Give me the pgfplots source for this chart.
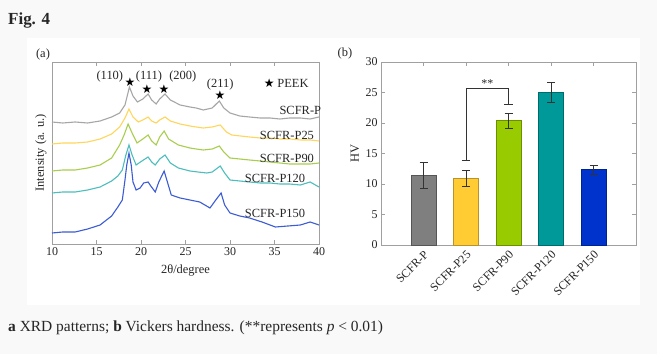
\documentclass[border=0pt]{standalone}
\usepackage{fontspec}
\setmainfont{Liberation Serif}
\newfontfamily\symfont{DejaVu Sans}
\usepackage{pgfplots}
\pgfplotsset{compat=1.18}
\definecolor{bgpage}{HTML}{F9F9F9}
\definecolor{axgray}{HTML}{A0A0A0}
\definecolor{txt}{HTML}{262626}
\definecolor{cP}{HTML}{A6A6A6}
\definecolor{cP25}{HTML}{FFD65C}
\definecolor{cP90}{HTML}{A9CE4E}
\definecolor{cP120}{HTML}{4DBDBD}
\definecolor{cP150}{HTML}{3B5CD4}
\definecolor{bP}{HTML}{7F7F7F}
\definecolor{bPe}{HTML}{555555}
\definecolor{bP25}{HTML}{FFCC33}
\definecolor{bP25e}{HTML}{B8922A}
\definecolor{bP90}{HTML}{99CC00}
\definecolor{bP90e}{HTML}{6B8F00}
\definecolor{bP120}{HTML}{009999}
\definecolor{bP120e}{HTML}{006B6B}
\definecolor{bP150}{HTML}{0033CC}
\definecolor{bP150e}{HTML}{00248F}
\begin{document}
\begin{tikzpicture}[x=1bp,y=1bp]
\fill[bgpage] (0,0) rectangle (657,354);
\fill[white] (27,49) rectangle (640,316);
\node[anchor=west, inner sep=0, font=\bfseries\fontsize{17}{20}\selectfont, text=txt] at (8,334) {Fig. 4};
\node[anchor=west, inner sep=0, font=\fontsize{15.5}{18}\selectfont, text=txt] at (8,26) {\textbf{a} XRD patterns; \textbf{b} Vickers hardness. (**represents \textit{p} < 0.01)};
\node[inner sep=0, font=\fontsize{12.5}{14}\selectfont, text=txt] at (43,299) {(a)};
\node[inner sep=0, font=\fontsize{12.5}{14}\selectfont, text=txt] at (345,300) {(b)};

\begin{axis}[at={(52bp,110bp)}, anchor=south west, scale only axis,
  width=267bp, height=182bp, xmin=10, xmax=40, ymin=0, ymax=182,
  xtick={10,15,...,40}, ytick=\empty, tick align=inside,
  major tick length=4bp,
  axis line style={axgray, line width=0.6bp}, tick style={axgray, line width=0.6bp},
  ticklabel style={font=\fontsize{12}{14}\selectfont, text=txt},
  /pgf/number format/assume math mode=true,
  xlabel={2θ/degree}, ylabel={Intensity (a. u.)},
  label style={font=\fontsize{12.5}{14}\selectfont, text=txt},
  xlabel style={at={(axis description cs:0.5,0)}, anchor=center, inner sep=0, yshift=-26bp},
  ylabel style={at={(axis description cs:0,0.5)}, anchor=center, inner sep=0, yshift=11bp},
  clip=false]
\addplot[cP, line width=1.1bp] coordinates {
(10.0,122) (11.2,121) (12.6,122) (14.0,121) (15.4,123) (16.7,127) (17.6,131) (18.2,139) (18.7,157)
(19.1,148) (19.6,142) (20.2,145) (20.8,150) (21.2,144) (21.7,140) (22.1,145) (22.7,150)
(23.3,144) (24.4,139) (25.5,137) (26.2,136) (27.0,134) (28.0,136) (28.8,143) (29.3,136)
(30.0,131) (31.1,128) (32.2,127) (33.4,126) (34.5,126) (35.6,125) (36.7,126) (37.9,126) (39.0,125) (40.0,127)};
\addplot[cP25, line width=1.1bp] coordinates {
(10.0,100) (11.2,101) (12.6,101) (14.0,102) (15.4,105) (16.7,110) (17.6,117) (18.2,126) (18.65,135)
(19.1,127) (19.7,122) (20.2,124) (20.8,127) (21.2,123) (21.7,121) (22.1,124) (22.7,127)
(23.3,123) (24.4,120) (25.5,118) (26.2,117) (27.0,116) (28.0,117) (28.9,119) (29.6,112)
(30.2,109) (31.2,108) (32.2,107) (33.4,106) (34.5,106) (35.6,105) (36.7,105) (38.0,104) (39.0,104) (40.0,103)};
\addplot[cP90, line width=1.1bp] coordinates {
(10.0,73) (11.2,74) (12.6,74) (14.0,76) (15.4,79) (16.7,86) (17.6,99) (18.1,109) (18.55,120)
(19.0,111) (19.55,101) (20.2,105) (20.8,109) (21.2,103) (21.7,99) (22.1,107) (22.6,113)
(23.1,105) (24.2,99) (25.5,96) (26.2,95) (27.0,94) (28.0,95) (28.8,98) (29.3,92)
(30.0,86) (31.1,85) (32.2,84) (33.4,83) (34.5,82) (35.6,81) (36.7,80) (37.9,80) (39.0,80) (40.0,81)};
\addplot[cP120, line width=1.1bp] coordinates {
(10.0,51) (11.2,52) (12.6,52) (14.0,54) (15.4,57) (16.7,63) (17.4,68) (17.9,74) (18.3,89) (18.65,99)
(19.0,89) (19.45,79) (20.1,83) (20.8,87) (21.2,82) (21.6,79) (22.1,85) (22.7,89)
(23.3,81) (24.2,76) (25.5,73) (26.4,72) (27.4,71) (28.0,72) (28.9,78) (29.4,71)
(30.0,64) (31.1,63) (32.2,62) (33.4,61) (34.5,61) (35.6,60) (36.7,60) (37.9,59) (39.0,62) (40.0,57)};
\addplot[cP150, line width=1.1bp] coordinates {
(10.0,11) (11.2,12) (12.6,12) (14.0,15) (15.4,19) (16.7,28) (17.4,37) (17.9,44) (18.2,64) (18.4,79) (18.65,91)
(18.9,79) (19.1,62) (19.45,54) (19.9,56) (20.3,61) (20.8,62) (21.1,58) (21.6,52) (22.0,62) (22.6,73)
(22.9,64) (23.4,49) (24.4,46) (25.5,44) (26.6,42) (27.75,36) (28.4,44) (29.0,51) (29.4,39)
(30.0,31) (31.1,28) (32.2,26) (33.6,22) (35.1,17) (36.5,18) (37.9,19) (39.0,22) (40.0,19)};
% peak stars
\addplot[black, only marks, mark=text, text mark={\symfont\fontsize{12}{12}\selectfont ★}] coordinates {(18.76,162) (20.67,155) (22.58,155) (28.88,149) (34.4,161)};
\begin{scope}[every node/.style={font=\fontsize{12.5}{14}\selectfont, text=txt, inner sep=0}]
\node at (axis cs:16.5,167) {(110)};
\node at (axis cs:20.9,167) {(111)};
\node at (axis cs:24.7,167) {(200)};
\node at (axis cs:28.9,159) {(211)};
\node[anchor=west] at (axis cs:35.3,161) {PEEK};
\node at (axis cs:37.9,134) {SCFR-P};
\node at (axis cs:36.4,109) {SCFR-P25};
\node at (axis cs:36.4,86) {SCFR-P90};
\node at (axis cs:35.06,66) {SCFR-P120};
\node at (axis cs:35.06,31) {SCFR-P150};
\end{scope}
\end{axis}

\begin{axis}[at={(381bp,109bp)}, anchor=south west, scale only axis,
  width=255bp, height=183bp, xmin=0, xmax=6, ymin=0, ymax=30,
  xtick={1,2,3,4,5}, xticklabels={SCFR-P,SCFR-P25,SCFR-P90,SCFR-P120,SCFR-P150},
  ytick={0,5,...,30}, tick align=inside, major tick length=4bp,
  axis line style={axgray, line width=0.6bp}, tick style={axgray, line width=0.6bp},
  ticklabel style={font=\fontsize{12}{14}\selectfont, text=txt},
  /pgf/number format/assume math mode=true,
  xticklabel style={rotate=45, anchor=north east},
  ylabel={HV},
  label style={font=\fontsize{12.5}{14}\selectfont, text=txt},
  ylabel style={at={(axis description cs:0,0.5)}, anchor=center, inner sep=0, yshift=26bp},
  clip=false,
  every axis plot/.append style={bar shift=0pt, bar width=25bp, line width=0.8bp},
  error bars/error bar style={black!80, line width=0.7bp},
  error bars/error mark options={rotate=90, mark size=4bp, black!80, line width=0.7bp}]
\addplot[ybar, fill=bP, draw=bPe, error bars/.cd, y dir=both, y explicit] coordinates {(1,11.4) +- (0,2.1)};
\addplot[ybar, fill=bP25, draw=bP25e, error bars/.cd, y dir=both, y explicit] coordinates {(2,10.9) +- (0,1.35)};
\addplot[ybar, fill=bP90, draw=bP90e, error bars/.cd, y dir=both, y explicit] coordinates {(3,20.4) +- (0,1.2)};
\addplot[ybar, fill=bP120, draw=bP120e, error bars/.cd, y dir=both, y explicit] coordinates {(4,25.0) +- (0,1.65)};
\addplot[ybar, fill=bP150, draw=bP150e, error bars/.cd, y dir=both, y explicit] coordinates {(5,12.35) +- (0,0.75)};
% significance bracket
\addplot[black!80, line width=0.7bp] coordinates {(2,13.9) (2,25.7) (3,25.7) (3,23.1)};
\addplot[black!80, line width=0.7bp] coordinates {(1.9,13.9) (2.1,13.9)};
\addplot[black!80, line width=0.7bp] coordinates {(2.9,23.1) (3.1,23.1)};
\node[font=\fontsize{12}{14}\selectfont, text=txt, inner sep=0] at (axis cs:2.5,26.4) {**};
\end{axis}
\end{tikzpicture}
\end{document}
